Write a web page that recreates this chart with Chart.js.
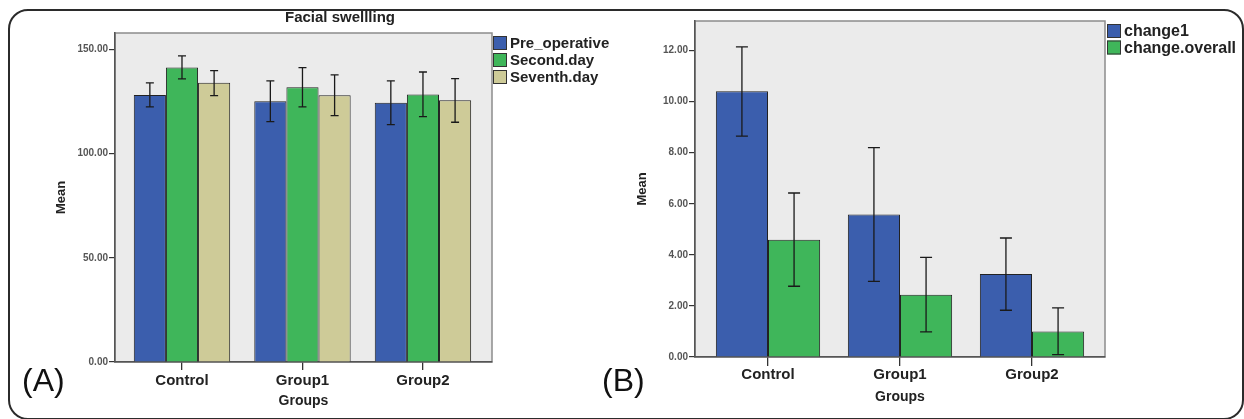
<!DOCTYPE html>
<html lang="en">
<head>
<meta charset="UTF-8">
<title>Facial swellling</title>
<script src="https://cdn.jsdelivr.net/npm/chart.js"></script>
<style>
  body { margin: 0; background: #fff; font-family: "Liberation Sans", Arial, sans-serif; }
  #fig { position: relative; width: 1244px; height: 419px; overflow: hidden; }
  #frame { position: absolute; left: 8px; top: 9px; width: 1236px; height: 411px; box-sizing: border-box;
           border: 2px solid #2b2b2b; border-radius: 20px; }
  canvas { position: absolute; top: 0; }
  #chartA { left: 0; }
  #chartB { left: 620px; }
  .tag { position: absolute; top: 364px; font-size: 32px; line-height: 1; color: #111; }
</style>
</head>
<body>
<div id="fig">
  <div id="frame"></div>
  <canvas id="chartA" width="620" height="419"></canvas>
  <canvas id="chartB" width="624" height="419"></canvas>
  <div class="tag" style="left:22px">(A)</div>
  <div class="tag" style="left:602px">(B)</div>
</div>

<script>
// categories and axis ticks
const groups = ['Control', 'Group1', 'Group2'];
const yTicksA = [0, 50, 100, 150];
const yTicksB = [0, 2, 4, 6, 8, 10, 12];

// panel A - facial swelling means and error bar ends
const preOperative = [128.1, 125.1, 124.3];
const preOperativeLow = [122.4, 115.3, 113.9];
const preOperativeHigh = [133.9, 134.8, 134.8];

const secondDay = [141.3, 131.8, 128.3];
const secondDayLow = [135.8, 122.4, 117.7];
const secondDayHigh = [146.8, 141.2, 139.1];

const seventhDay = [133.9, 128.0, 125.6];
const seventhDayLow = [127.8, 118.2, 115.0];
const seventhDayHigh = [139.8, 137.7, 135.9];

// panel B - changes
const change1 = [10.40, 5.58, 3.25];
const change1Low = [8.65, 2.96, 1.83];
const change1High = [12.14, 8.20, 4.66];

const changeOverall = [4.59, 2.44, 1.00];
const changeOverallLow = [2.77, 0.98, 0.09];
const changeOverallHigh = [6.42, 3.90, 1.92];

const BLUE = '#3b5ead';
const GREEN = '#3fb65a';
const TAN = '#cecb98';
const FONT = '"Liberation Sans", Arial, sans-serif';

// bars sit at x = 0, 1, 2 on a linear axis
const toPoints = vals => vals.map((v, i) => ({x: i, y: v}));

// grey plot background with frame
const plotBox = {
  id: 'plotBox',
  beforeDraw(chart) {
    const {ctx, chartArea: a} = chart;
    ctx.save();
    ctx.fillStyle = '#ebebeb';
    ctx.fillRect(a.left, a.top, a.right - a.left, a.bottom - a.top);
    ctx.strokeStyle = '#8c8c8c';
    ctx.lineWidth = 1.5;
    ctx.strokeRect(a.left, a.top, a.right - a.left, a.bottom - a.top);
    ctx.restore();
  }
};

// error bars from errLow / errHigh of each dataset
const errorBars = {
  id: 'errorBars',
  afterDatasetsDraw(chart, args, opts) {
    const {ctx} = chart;
    const yScale = chart.scales.y;
    ctx.save();
    ctx.strokeStyle = '#1a1a1a';
    ctx.lineWidth = 1.3;
    chart.data.datasets.forEach((ds, i) => {
      chart.getDatasetMeta(i).data.forEach((bar, j) => {
        const x = bar.x;
        const y1 = yScale.getPixelForValue(ds.errLow[j]);
        const y2 = yScale.getPixelForValue(ds.errHigh[j]);
        ctx.beginPath();
        ctx.moveTo(x, y1); ctx.lineTo(x, y2);
        ctx.moveTo(x - opts.cap, y1); ctx.lineTo(x + opts.cap, y1);
        ctx.moveTo(x - opts.cap, y2); ctx.lineTo(x + opts.cap, y2);
        ctx.stroke();
      });
    });
    ctx.restore();
  }
};

// title and legend, SPSS style
const panelText = {
  id: 'panelText',
  afterDraw(chart, args, opts) {
    const {ctx, chartArea: a} = chart;
    ctx.save();
    if (opts.title) {
      ctx.fillStyle = '#222';
      ctx.font = 'bold 15px ' + FONT;
      ctx.textAlign = 'center';
      ctx.textBaseline = 'middle';
      ctx.fillText(opts.title, opts.titleX, opts.titleY);
    }
    ctx.font = 'bold ' + opts.legendSize + 'px ' + FONT;
    ctx.textAlign = 'left';
    ctx.textBaseline = 'middle';
    chart.data.datasets.forEach((ds, i) => {
      const cy = a.top + opts.legendTop + i * opts.legendStep;
      const x0 = a.right + opts.legendGap;
      ctx.fillStyle = ds.backgroundColor;
      ctx.fillRect(x0, cy - 7, 14, 14);
      ctx.strokeStyle = '#333';
      ctx.lineWidth = 1;
      ctx.strokeRect(x0 + 0.5, cy - 6.5, 13, 13);
      ctx.fillStyle = '#222';
      ctx.fillText(ds.label, x0 + 17, cy + 1);
    });
    ctx.restore();
  }
};

function xAxis(min, max, height, tickLen, pad, titlePad) {
  return {
    type: 'linear',
    min: min,
    max: max,
    offset: false,
    afterBuildTicks: s => { s.ticks = groups.map((g, i) => ({value: i})); },
    afterFit: s => { s.height = height; },
    ticks: {
      callback: v => groups[v],
      autoSkip: false,
      maxRotation: 0,
      padding: pad,
      color: '#222',
      font: {family: FONT, size: 15, weight: 'bold'}
    },
    grid: {offset: false, drawOnChartArea: false, tickLength: tickLen, color: '#333', lineWidth: 1.3},
    border: {color: '#555', width: 1.5},
    title: {display: true, text: 'Groups', color: '#222',
            font: {family: FONT, size: 14, weight: 'bold'}, padding: {top: 0, bottom: titlePad}}
  };
}

function yAxis(max, ticks, width) {
  return {
    min: 0,
    max: max,
    afterBuildTicks: s => { s.ticks = ticks.map(v => ({value: v})); },
    afterFit: s => { s.width = width; },
    ticks: {
      callback: v => v.toFixed(2),
      padding: 1,
      color: '#555',
      font: {family: FONT, size: 10, weight: 'bold'}
    },
    grid: {drawOnChartArea: false, tickLength: 6, color: '#333', lineWidth: 1.2},
    border: {color: '#555', width: 1.5},
    title: {display: true, text: 'Mean', color: '#222',
            font: {family: FONT, size: 13, weight: 'bold'}, padding: {top: 0, bottom: 0}}
  };
}

const barStyle = {barPercentage: 1, borderColor: '#222', borderWidth: 1};

new Chart(document.getElementById('chartA'), {
  type: 'bar',
  data: {
    datasets: [
      {label: 'Pre_operative', data: toPoints(preOperative), backgroundColor: BLUE,
       errLow: preOperativeLow, errHigh: preOperativeHigh},
      {label: 'Second.day', data: toPoints(secondDay), backgroundColor: GREEN,
       errLow: secondDayLow, errHigh: secondDayHigh},
      {label: 'Seventh.day', data: toPoints(seventhDay), backgroundColor: TAN,
       errLow: seventhDayLow, errHigh: seventhDayHigh}
    ]
  },
  options: {
    responsive: false,
    animation: false,
    layout: {padding: {left: 54, right: 128, top: 33, bottom: 0}},
    datasets: {bar: Object.assign({categoryPercentage: 0.8}, barStyle)},
    plugins: {
      legend: {display: false},
      tooltip: {enabled: false},
      errorBars: {cap: 4},
      panelText: {title: 'Facial swellling', titleX: 340, titleY: 18,
                  legendSize: 15, legendTop: 10, legendStep: 17, legendGap: 1}
    },
    scales: {
      x: xAxis(-0.556, 2.573, 57, 8, 2, 9),
      y: yAxis(157.8, yTicksA, 61)
    }
  },
  plugins: [plotBox, errorBars, panelText]
});

new Chart(document.getElementById('chartB'), {
  type: 'bar',
  data: {
    datasets: [
      {label: 'change1', data: toPoints(change1), backgroundColor: BLUE,
       errLow: change1Low, errHigh: change1High},
      {label: 'change.overall', data: toPoints(changeOverall), backgroundColor: GREEN,
       errLow: changeOverallLow, errHigh: changeOverallHigh}
    ]
  },
  options: {
    responsive: false,
    animation: false,
    layout: {padding: {left: 15, right: 139, top: 21, bottom: 0}},
    datasets: {bar: Object.assign({categoryPercentage: 0.79}, barStyle)},
    plugins: {
      legend: {display: false},
      tooltip: {enabled: false},
      errorBars: {cap: 6},
      panelText: {title: '', legendSize: 16, legendTop: 10, legendStep: 16.5, legendGap: 2}
    },
    scales: {
      x: xAxis(-0.553, 2.553, 62, 9, 0, 13),
      y: yAxis(13.155, yTicksB, 60)
    }
  },
  plugins: [plotBox, errorBars, panelText]
});
</script>
</body>
</html>
